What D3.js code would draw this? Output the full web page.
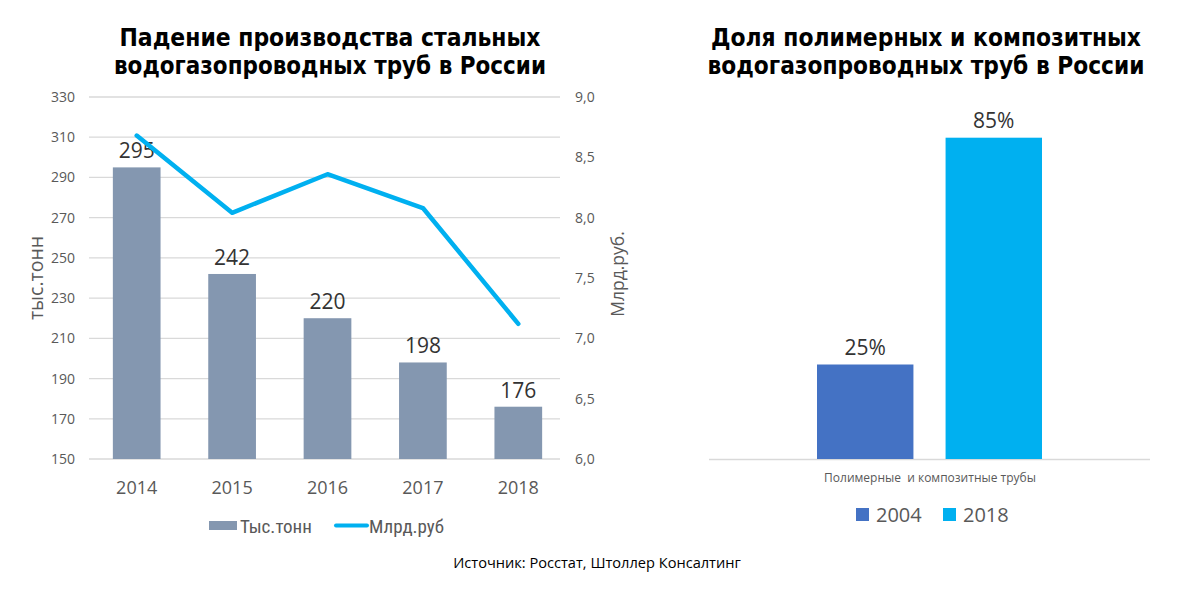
<!DOCTYPE html>
<html><head><meta charset="utf-8">
<script src="https://cdn.jsdelivr.net/npm/d3@7"></script>
<style>body{margin:0;background:#fff;}svg{display:block;}</style>
</head><body>
<svg id="c" width="1200" height="597"></svg>
<script>
const years = ["2014","2015","2016","2017","2018"];
const tonnes = [295, 242, 220, 198, 176];
const rubles = [8.68, 8.04, 8.36, 8.08, 7.12];
const leftTicks = [150,170,190,210,230,250,270,290,310,330];
const rightTicks = [6.0,6.5,7.0,7.5,8.0,8.5,9.0];
const shareSeries = ["2004","2018"];
const shareValues = [25, 85];
const shareCategory = "Полимерные  и композитные трубы";
const titleLeft = ["Падение производства стальных","водогазопроводных труб в России"];
const titleRight = ["Доля полимерных и композитных","водогазопроводных труб в России"];
const sourceText = "Источник: Росстат, Штоллер Консалтинг";

const svg = d3.select("#c");
const font = "'Open Sans', 'Noto Sans', sans-serif";
const grey = "#595959";

// ---------- Left chart ----------
const x = d3.scaleBand().domain(years).range([89, 566]).paddingInner(0.5).paddingOuter(0.25);
const yL = d3.scaleLinear().domain([150, 330]).range([459, 97]);
const yR = d3.scaleLinear().domain([6, 9]).range([459, 97]);

svg.append("g").selectAll("line").data(leftTicks).join("line")
  .attr("x1", 89).attr("x2", 560).attr("y1", d => yL(d)).attr("y2", d => yL(d))
  .attr("stroke", "#d9d9d9").attr("stroke-width", 1.3);

svg.append("g").selectAll("text").data(leftTicks).join("text")
  .attr("x", 75).attr("y", d => yL(d) + 5).attr("text-anchor", "end")
  .attr("font-family", font).attr("font-size", 14).attr("fill", grey).text(d => d);

svg.append("g").selectAll("text").data(rightTicks).join("text")
  .attr("x", 575).attr("y", d => yR(d) + 5).attr("text-anchor", "start")
  .attr("font-family", font).attr("font-size", 14).attr("fill", grey)
  .text(d => d3.format(".1f")(d).replace(".", ","));

svg.append("text").attr("transform", "translate(43,278) rotate(-90)")
  .attr("text-anchor", "middle").attr("font-family", font).attr("font-size", 19.5).attr("fill", grey)
  .text("тыс.тонн");
svg.append("text").attr("transform", "translate(624,274) rotate(-90)")
  .attr("text-anchor", "middle").attr("font-family", font).attr("font-size", 17.5).attr("fill", grey)
  .text("Млрд.руб.");

svg.append("g").selectAll("rect").data(tonnes).join("rect")
  .attr("x", (d, i) => x(years[i])).attr("width", x.bandwidth())
  .attr("y", d => yL(d)).attr("height", d => yL(150) - yL(d))
  .attr("fill", "#8497B0");

svg.append("g").selectAll("text").data(tonnes).join("text")
  .attr("x", (d, i) => x(years[i]) + x.bandwidth() / 2).attr("y", d => yL(d) - 9)
  .attr("text-anchor", "middle").attr("font-family", font).attr("font-size", 21).attr("fill", "#333")
  .text(d => d);

svg.append("g").selectAll("text").data(years).join("text")
  .attr("x", d => x(d) + x.bandwidth() / 2).attr("y", 494)
  .attr("text-anchor", "middle").attr("font-family", font).attr("font-size", 18).attr("fill", grey)
  .text(d => d);

const line = d3.line().x((d, i) => x(years[i]) + x.bandwidth() / 2).y(d => yR(d));
svg.append("path").datum(rubles).attr("d", line)
  .attr("fill", "none").attr("stroke", "#00B0F0").attr("stroke-width", 4.5)
  .attr("stroke-linejoin", "round").attr("stroke-linecap", "round");

// legend left
const narrow = "'Liberation Sans Narrow', 'Arial Narrow', 'Roboto Condensed', sans-serif";
svg.append("rect").attr("x", 209).attr("y", 521).attr("width", 28).attr("height", 9).attr("fill", "#8497B0");
svg.append("text").attr("x", 240).attr("y", 533).attr("font-family", narrow).attr("font-size", 19)
  .attr("fill", grey).text("Тыс.тонн");
svg.append("line").attr("x1", 336).attr("x2", 367).attr("y1", 525.5).attr("y2", 525.5)
  .attr("stroke", "#00B0F0").attr("stroke-width", 4).attr("stroke-linecap", "round");
svg.append("text").attr("x", 369).attr("y", 533).attr("font-family", narrow).attr("font-size", 19)
  .attr("fill", grey).text("Млрд.руб");

// titles
const titleFont = "Verdana, 'DejaVu Sans', sans-serif";
function title(lines, cx, widths) {
  svg.append("g").selectAll("text").data(lines).join("text")
    .attr("x", cx).attr("y", (d, i) => 46 + i * 28)
    .attr("text-anchor", "middle").attr("font-family", titleFont).attr("font-weight", "bold")
    .attr("font-size", 24).attr("fill", "#000")
    .attr("textLength", (d, i) => widths[i]).attr("lengthAdjust", "spacingAndGlyphs")
    .text(d => d);
}
title(titleLeft, 330, [421, 432]);
title(titleRight, 926, [430, 437]);

// ---------- Right chart ----------
const xs = d3.scaleBand().domain(shareSeries).range([817, 1042]).paddingInner(0.25).paddingOuter(0);
const ys = d3.scaleLinear().domain([0, 100]).range([459, 81]);
const colors = ["#4472C4", "#00B0F0"];

svg.append("line").attr("x1", 709).attr("x2", 1150).attr("y1", 459.5).attr("y2", 459.5)
  .attr("stroke", "#d9d9d9").attr("stroke-width", 1.5);

svg.append("g").selectAll("rect").data(shareValues).join("rect")
  .attr("x", (d, i) => xs(shareSeries[i])).attr("width", xs.bandwidth())
  .attr("y", d => ys(d)).attr("height", d => ys(0) - ys(d))
  .attr("fill", (d, i) => colors[i]);

svg.append("g").selectAll("text").data(shareValues).join("text")
  .attr("x", (d, i) => xs(shareSeries[i]) + xs.bandwidth() / 2).attr("y", d => ys(d) - 10)
  .attr("text-anchor", "middle").attr("font-family", font).attr("font-size", 21).attr("fill", "#333")
  .text(d => d + "%");

svg.append("text").attr("x", 930).attr("y", 482).attr("text-anchor", "middle")
  .attr("font-family", font).attr("font-size", 12).attr("fill", grey)
  .style("white-space", "pre").text(shareCategory);

// legend right
const lg = svg.append("g").selectAll("g").data(shareSeries).join("g")
  .attr("transform", (d, i) => `translate(${856 + i * 87},508)`);
lg.append("rect").attr("width", 13).attr("height", 13).attr("fill", (d, i) => colors[i]);
lg.append("text").attr("x", 20).attr("y", 14).attr("font-family", font).attr("font-size", 20)
  .attr("fill", grey).text(d => d);

// source
svg.append("text").attr("x", 597).attr("y", 568).attr("text-anchor", "middle")
  .attr("font-family", font).attr("font-size", 14.6).attr("fill", "#000").text(sourceText);
</script>
</body></html>
